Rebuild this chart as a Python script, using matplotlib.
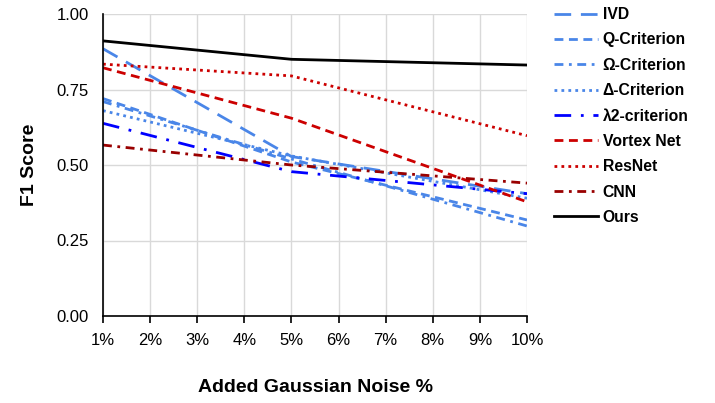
import matplotlib.pyplot as plt

plt.rcParams['font.family'] = ['Liberation Sans', 'DejaVu Sans']

# noise levels shown on the axis, values measured at 1%, 5% and 10%
ticks = [1, 2, 3, 4, 5, 6, 7, 8, 9, 10]
tick_labels = ["1%", "2%", "3%", "4%", "5%", "6%", "7%", "8%", "9%", "10%"]
noise = [1, 5, 10]

ivd = [0.885, 0.528, 0.405]
q_crit = [0.72, 0.51, 0.318]
omega_crit = [0.71, 0.52, 0.298]
delta_crit = [0.68, 0.53, 0.39]
lambda2 = [0.638, 0.478, 0.405]
vortex_net = [0.822, 0.655, 0.378]
resnet = [0.834, 0.795, 0.597]
cnn = [0.566, 0.50, 0.44]
ours = [0.911, 0.85, 0.831]

light_blue = "#4a86e8"
fig = plt.figure(figsize=(7.15, 4.03), dpi=100)
ax = fig.add_axes([103 / 715, 1 - 316 / 403, 424 / 715, 302 / 403])

ax.plot(noise, ivd, color=light_blue, lw=2, dashes=(6, 3.5), label="IVD")
ax.plot(noise, q_crit, color=light_blue, lw=2, dashes=(3.2, 2), label="Q-Criterion")
ax.plot(noise, omega_crit, color=light_blue, lw=2, dashes=(3.2, 2, 1, 2), label="Ω-Criterion")
ax.plot(noise, delta_crit, color=light_blue, lw=2, dashes=(1, 1.5), label="Δ-Criterion")
ax.plot(noise, lambda2, color="#0000ff", lw=2, dashes=(6, 3.5, 1, 3.5), label="λ2-criterion")
ax.plot(noise, vortex_net, color="#cc0000", lw=2, dashes=(3.2, 2), label="Vortex Net")
ax.plot(noise, resnet, color="#cc0000", lw=2, dashes=(1, 1.5), label="ResNet")
ax.plot(noise, cnn, color="#990000", lw=2, dashes=(3.2, 2, 1, 2), label="CNN")
ax.plot(noise, ours, color="black", lw=2, label="Ours")

ax.set_xlim(1, 10)
ax.set_ylim(0, 1)
ax.set_xticks(ticks)
ax.set_xticklabels(tick_labels, fontsize=12)
ax.set_yticks([0, 0.25, 0.5, 0.75, 1.0])
ax.set_yticklabels(["0.00", "0.25", "0.50", "0.75", "1.00"], fontsize=12)
ax.grid(True, color="#d9d9d9", lw=1)
ax.set_axisbelow(True)
for s in ["top", "right"]:
    ax.spines[s].set_visible(False)
ax.spines["left"].set_linewidth(1.2)
ax.spines["bottom"].set_linewidth(1.2)
ax.tick_params(axis="y", length=0, pad=10)
ax.tick_params(axis="x", length=5, width=1.2, direction="out", pad=7)

fig.text(30 / 715, 1 - 165 / 403, "F1 Score", rotation=90, fontsize=14,
         fontweight="bold", ha="center", va="center")
fig.text(316 / 715, 1 - 387 / 403, "Added Gaussian Noise %", fontsize=14,
         fontweight="bold", ha="center", va="center")

leg = fig.legend(loc="upper left", bbox_to_anchor=(540 / 715, 1 + 7 / 403),
                 frameon=False, handlelength=2.8, handletextpad=0.3,
                 labelspacing=0.66, prop={"weight": "bold", "size": 11.3})

fig.savefig("out.png", dpi=100)
